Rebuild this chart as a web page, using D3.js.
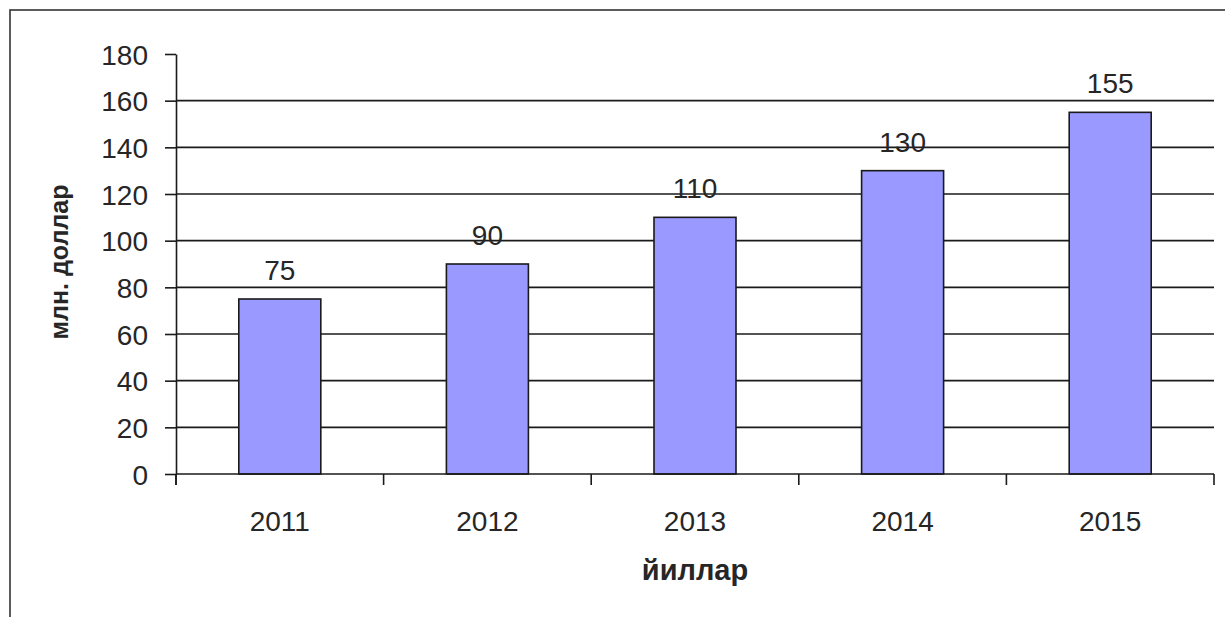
<!DOCTYPE html>
<html><head><meta charset="utf-8">
<script src="https://cdn.jsdelivr.net/npm/d3@7/dist/d3.min.js"></script>
<style>body{margin:0;background:#fff}svg{display:block}text{font-family:"Liberation Sans",Arial,sans-serif;fill:#262626}</style>
</head><body>
<svg id="c" width="1225" height="617"></svg>
<script>
const years = ["2011","2012","2013","2014","2015"];
const values = [75, 90, 110, 130, 155];
const yTicks = [0,20,40,60,80,100,120,140,160,180];
const xTitle = "йиллар";
const yTitle = "млн. доллар";

const svg = d3.select("#c");
const L = 176, R = 1214, T = 54, B = 474;
const x = d3.scaleBand().domain(years).range([L, R]).paddingInner(0.605).paddingOuter(0.3025);
const y = d3.scaleLinear().domain([0, 180]).range([B, T]);

// outer border
svg.append("rect").attr("x",10).attr("y",10).attr("width",1240).attr("height",640)
  .attr("fill","none").attr("stroke","#333").attr("stroke-width",1.6);

// gridlines
svg.append("g").selectAll("line").data(yTicks.filter(d => d > 0 && d < 180)).join("line")
  .attr("x1", L).attr("x2", R).attr("y1", d => y(d)).attr("y2", d => y(d))
  .attr("stroke","#1a1a1a").attr("stroke-width",1.6);

// bars
svg.append("g").selectAll("rect").data(values).join("rect")
  .attr("x", (d,i) => x(years[i])).attr("width", x.bandwidth())
  .attr("y", d => y(d)).attr("height", d => y(0) - y(d))
  .attr("fill","#9999ff").attr("stroke","#1a1a1a").attr("stroke-width",1.6);

// value labels
svg.append("g").selectAll("text").data(values).join("text")
  .attr("x", (d,i) => x(years[i]) + x.bandwidth()/2).attr("y", d => y(d) - 19)
  .attr("text-anchor","middle").attr("font-size", 28).text(d => d);

// y axis
const yAxis = d3.axisLeft(y).tickValues(yTicks).tickSize(11).tickPadding(17).tickSizeOuter(0);
const gy = svg.append("g").attr("transform", `translate(${L},0)`).call(yAxis);
gy.select(".domain").attr("stroke","#1a1a1a").attr("stroke-width",1.6);
gy.selectAll(".tick line").attr("stroke","#1a1a1a").attr("stroke-width",1.6);
gy.selectAll(".tick text").attr("font-size",28).attr("font-family","Liberation Sans, Arial, sans-serif").attr("fill","#262626").attr("dy","0.36em");
gy.append("line").attr("x1",0).attr("x2",0).attr("y1",B).attr("y2",B+11).attr("stroke","#1a1a1a").attr("stroke-width",1.6);

// x axis
const gx = svg.append("g").attr("transform", `translate(0,${B})`);
gx.append("line").attr("x1", L).attr("x2", R).attr("stroke","#1a1a1a").attr("stroke-width",1.6);
const step = x.step();
const bounds = d3.range(years.length + 1).map(i => L + i * step);
gx.selectAll("line.tk").data(bounds).join("line").attr("class","tk")
  .attr("x1", d => d).attr("x2", d => d).attr("y1", 0).attr("y2", 11)
  .attr("stroke","#1a1a1a").attr("stroke-width",1.6);
gx.selectAll("text").data(years).join("text")
  .attr("x", d => x(d) + x.bandwidth()/2).attr("y", 57)
  .attr("text-anchor","middle").attr("font-size",28).text(d => d);

// axis titles
svg.append("text").attr("x", (L+R)/2).attr("y", 580).attr("text-anchor","middle")
  .attr("font-size",29).attr("font-weight","bold").attr("fill","#111").text(xTitle);
svg.append("text").attr("transform", `translate(68,${(T+B)/2 - 2}) rotate(-90)`)
  .attr("text-anchor","middle").attr("font-size",25).attr("font-weight","bold").attr("fill","#111").text(yTitle);
</script>
</body></html>
